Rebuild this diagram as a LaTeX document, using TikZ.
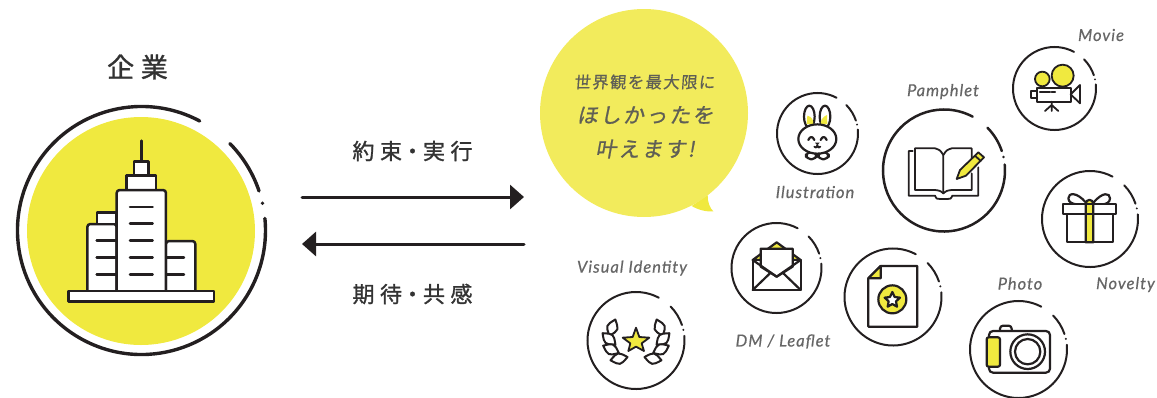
\documentclass[tikz,border=0pt]{standalone}
\usepackage{fontspec}
\usetikzlibrary{arrows.meta}
\newfontfamily\jphead{Noto Sans CJK JP}[LetterSpace=25,FakeBold=1.2]
\newfontfamily\jpbub{Noto Sans CJK JP}[LetterSpace=9,FakeSlant=0.08,FakeBold=0.5]
\newfontfamily\jpbubb{Noto Sans CJK JP}[LetterSpace=10,FakeSlant=0.18,FakeBold=1]
\newfontfamily\latlab{Lato}[LetterSpace=6,FakeBold=0.5]
\definecolor{ink}{HTML}{231F20}
\definecolor{yel}{HTML}{F0E93F}
\definecolor{bub}{HTML}{F2EB5C}
\definecolor{lab}{HTML}{666666}
\definecolor{bubtxt}{HTML}{5F5F55}
\definecolor{head}{HTML}{333333}
\tikzset{
  zoomat/.style 2 args={shift={(#1,#2)},x=0.33333pt,y=-0.33333pt},
  ic/.style={draw=ink,line width=2.2pt,line join=round,line cap=round},
  thin ic/.style={draw=ink,line width=1.8pt,line join=round,line cap=round},
  itemlabel/.style={font=\latlab\itshape\fontsize{16.5}{18}\selectfont,text=lab,inner sep=0pt},
  headlabel/.style={font=\jphead\fontsize{22}{24}\selectfont,text=head,inner sep=0pt},
  bigarrow/.style={draw=ink,line width=3pt,line cap=round,-{Triangle[length=14pt,width=24pt]}}
}
% centre x, centre y, radius, line width
\newcommand{\ringicon}[4]{%
  \begin{scope}[shift={(#1,#2)},x=1pt,y=1pt,line cap=round]
    \draw[ink,line width=#4pt] (62:#3) arc[start angle=62,end angle=365.6,radius=#3pt];
    \draw[ink,line width=#4pt] (44.5:#3) arc[start angle=44.5,end angle=18.6,radius=#3pt];
    \fill[ink] (12.7:#3) circle (#4*0.55pt);
  \end{scope}}
\newcommand{\lens}[3]{% x,y,rotation
  \draw[ic,line width=2pt,fill=white,shift={(#1,#2)},rotate=#3] (-26,0) .. controls (0,21) .. (26,0) .. controls (0,-21) .. cycle;}
\begin{document}
\begin{tikzpicture}[x=1pt,y=-1pt]
\useasboundingbox (0,0) rectangle (1157,397);

% ---- company
\fill[yel] (141,231) circle (114);
\ringicon{141.5}{230.5}{124}{3.4}
\node[headlabel,font=\jphead\fontsize{27}{28}\selectfont] (kigyo) at (137.5,67) {企業};
\begin{scope}[zoomat={0}{40}]
  \draw[ic,fill=white,line width=2.5pt] (262,750) -- (262,562) [rounded corners=3pt] -- (262,552) -- (350,552) [sharp corners] -- (350,750);
  \draw[ic,fill=white,line width=2.5pt] (291,550) -- (291,517) -- (350,517) -- (350,550);
  \draw[ic,fill=white,line width=2.5pt] (498,750) [rounded corners=3pt] -- (498,603) -- (586,603) -- (586,750);
  \draw[ic,fill=white,line width=2.5pt] (402,406) -- (402,364) -- (446,364) -- (446,406);
  \draw[ic,fill=white,line width=2.5pt] (380,448) -- (380,406) -- (468,406) -- (468,448);
  \draw[ic,fill=white,line width=2.5pt] (350,750) [rounded corners=3pt] -- (350,450) -- (498,450) -- (498,750);
  \draw[ic,line width=2.5pt] (424,302) -- (424,362);
  \foreach \yy in {501,551,602,652,703} \draw[ic,line width=2.5pt] (390,\yy) -- (458,\yy);
  \foreach \yy in {602,652,703} \draw[ic,line width=2.5pt] (290,\yy) -- (348,\yy);
  \foreach \yy in {652,703} \draw[ic,line width=2.5pt] (500,\yy) -- (552,\yy);
  \draw[ic,fill=white,line width=2.5pt] (206,753) rectangle (642,785);
\end{scope}

% ---- arrows
\node[headlabel] (yakusoku) at (412.5,151) {約束\kern-0.5pt・\kern-0.5pt 実行};
\node[headlabel] (kitai) at (412.5,294) {期待\kern-0.5pt・\kern-0.5pt 共感};
\coordinate (a1s) at (302,197); \coordinate (a1e) at (524,197);
\coordinate (a2s) at (524,244); \coordinate (a2e) at (302,244);
\draw[bigarrow] (a1s) -- (a1e);
\draw[bigarrow] (a2s) -- (a2e);

% ---- balloon
\begin{scope}[zoomat={530}{0}]
  \fill[yel] (485,618) .. controls (505,630) and (530,636) .. (550,634) .. controls (540,625) and (532,605) .. (533,585) -- cycle;
\end{scope}
\fill[bub] (644,113) circle (104);
\node[inner sep=0pt,text=bubtxt,font=\jpbub\fontsize{16.3}{18}\selectfont] (b1) at (644.5,82) {世界観を最大限に};
\node[inner sep=0pt,text=bubtxt,font=\jpbubb\fontsize{21}{24}\selectfont] (b2) at (645,115) {ほしかったを};
\node[inner sep=0pt,text=bubtxt,font=\jpbubb\fontsize{21}{24}\selectfont] (b3) at (645,149) {叶えます!};

% ---- rings
\ringicon{817.5}{133.5}{40.5}{2}
\ringicon{944}{170.5}{61}{2.5}
\ringicon{1054.5}{88.5}{41.5}{2}
\ringicon{1090}{219}{48}{2}
\ringicon{893}{297}{48.5}{2}
\ringicon{1018.5}{349.5}{48.5}{2}
\ringicon{776.5}{268}{45}{2}
\ringicon{636}{340.5}{48.5}{2}

% ---- labels
\node[itemlabel] (lill) at (815,192) {Ilustration};
\node[itemlabel] (lpam) at (943,91.5) {Pamphlet};
\node[itemlabel] (lmov) at (1101,35) {Movie};
\node[itemlabel] (lvis) at (632,268) {Visual Identity};
\node[itemlabel] (ldm) at (783,341.5) {DM / Leaflet};
\node[itemlabel] (lpho) at (1020,283.5) {Photo};
\node[itemlabel] (lnov) at (1125.5,284.5) {Novelty};

% ---- bunny
\begin{scope}[zoomat={530}{0}]
  \draw[ic,fill=white] (838,350) ellipse [x radius=16,y radius=33];
  \draw[ic,fill=white] (885,350) ellipse [x radius=16,y radius=33];
  \fill[yel] (832,347) .. controls (846,350) and (850,360) .. (850,372) -- (830,372) -- cycle;
  \fill[yel] (891,345) .. controls (878,350) and (873,360) .. (872,372) -- (892,372) -- cycle;
  \draw[ic,fill=white,rounded corners=5pt] (828,456) rectangle (860,478);
  \draw[ic,fill=white,rounded corners=5pt] (864,456) rectangle (896,478);
  \draw[ic,fill=white] (862,417) ellipse [x radius=57,y radius=44];
  \draw[ic] (835,420) .. controls (840,408) and (848,408) .. (853,420);
  \draw[ic] (872,420) .. controls (877,408) and (885,408) .. (890,420);
  \fill[ink] (855,428) -- (869,428) -- (862,436) -- cycle;
  \draw[thin ic] (853,440) .. controls (857,445) and (860,444) .. (862,436) .. controls (864,444) and (867,445) .. (871,440);
\end{scope}

% ---- book and movie
\begin{scope}[zoomat={860}{10}]
  \draw[thin ic] (158,423) -- (146,423) -- (146,557) -- (225,557) .. controls (230,567) .. (240,567) -- (262,567) .. controls (272,567) .. (277,557) -- (355,557) -- (355,472);
  \draw[thin ic] (250,435) .. controls (240,420) .. (225,415) -- (165,415) -- (165,540) -- (225,540) .. controls (240,542) .. (250,550) .. controls (260,542) .. (275,540) -- (335,540) -- (335,490);
  \draw[thin ic] (335,445) -- (335,415) -- (275,415) .. controls (260,420) .. (250,435) -- (250,550);
  \draw[thin ic,fill=yel] (290,507) -- (300,480) -- (355,427) -- (372,442) -- (318,497) -- cycle;
  \draw[thin ic] (345,437) -- (362,453);
  % movie
  \draw[thin ic,fill=white] (512,243) rectangle (532,265);
  \draw[thin ic,fill=white] (532,235) rectangle (632,275);
  \draw[thin ic,fill=white] (632,253) -- (660,225) -- (660,280) -- cycle;
  \draw[thin ic,line width=2.2pt] (540,247) -- (570,247) (575,247) -- (585,247);
  \draw[thin ic] (575,275) -- (575,303) (575,285) -- (555,303) (575,285) -- (595,303);
  \draw[thin ic,fill=yel] (608,197) circle (33);
  \draw[thin ic,fill=yel] (547,207) circle (22);
  % gift
  \draw[ic] (678,578) .. controls (650,545) and (625,548) .. (625,565) .. controls (625,578) and (640,582) .. (650,583);
  \draw[ic] (700,578) .. controls (728,545) and (750,548) .. (750,565) .. controls (750,578) and (738,582) .. (728,583);
  \draw[ic,fill=white] (620,612) rectangle (758,697);
  \draw[ic,fill=white] (610,583) rectangle (768,612);
  \draw[ic,fill=yel] (677,697) -- (677,583) .. controls (677,565) and (700,565) .. (700,583) -- (700,697) -- cycle;
  \draw[ic] (677,583) -- (700,583) (677,612) -- (700,612);
\end{scope}

% ---- envelope and laurel
\begin{scope}[zoomat={560}{210}]
  \draw[ic,fill=yel] (578,150) -- (650,97) -- (722,150) -- cycle;
  \draw[ic,fill=white] (578,150) rectangle (722,240);
  \draw[ic,fill=white] (602,116) -- (698,116) -- (698,170) -- (650,200) -- (602,170) -- cycle;
  \draw[ic] (578,150) -- (650,200) -- (722,150);
  \draw[ic] (578,240) -- (632,188) (722,240) -- (668,188);
  \draw[thin ic,fill=yel] (228,353) -- (238,381) -- (268,383) -- (245,400) -- (252,423) -- (228,410) -- (205,423) -- (211,400) -- (188,383) -- (218,381) -- cycle;
  \lens{157}{353}{70}
  \lens{147}{387}{-42}
  \lens{153}{418}{-25}
  \lens{177}{446}{11}
  \lens{299}{353}{110}
  \lens{309}{387}{222}
  \lens{303}{418}{205}
  \lens{279}{446}{169}
\end{scope}

% ---- document and camera
\begin{scope}[zoomat={840}{180}]
  \draw[ic,fill=white] (122,258) -- (232,258) -- (232,440) -- (85,440) -- (85,295) -- cycle;
  \draw[ic,fill=yel] (122,258) -- (122,295) -- (85,295) -- cycle;
  \draw[ic,fill=yel] (157,358) circle (42);
  \draw[ic,fill=white] (157,336) -- (164,351) -- (180,353) -- (168,364) -- (171,380) -- (157,372) -- (143,380) -- (146,364) -- (134,353) -- (150,351) -- cycle;
  % camera
  \draw[ic,fill=white,rounded corners=3pt] (480,453) -- (480,437) -- (515,437) -- (515,453);
  \draw[ic,fill=white,rounded corners=4pt] (447,453) rectangle (630,578);
  \draw[ic,fill=yel,rounded corners=2pt] (440,472) rectangle (480,560);
  \draw[ic] (563,515) circle (52);
  \draw[ic] (563,515) circle (38);
\end{scope}
\end{tikzpicture}
\end{document}
